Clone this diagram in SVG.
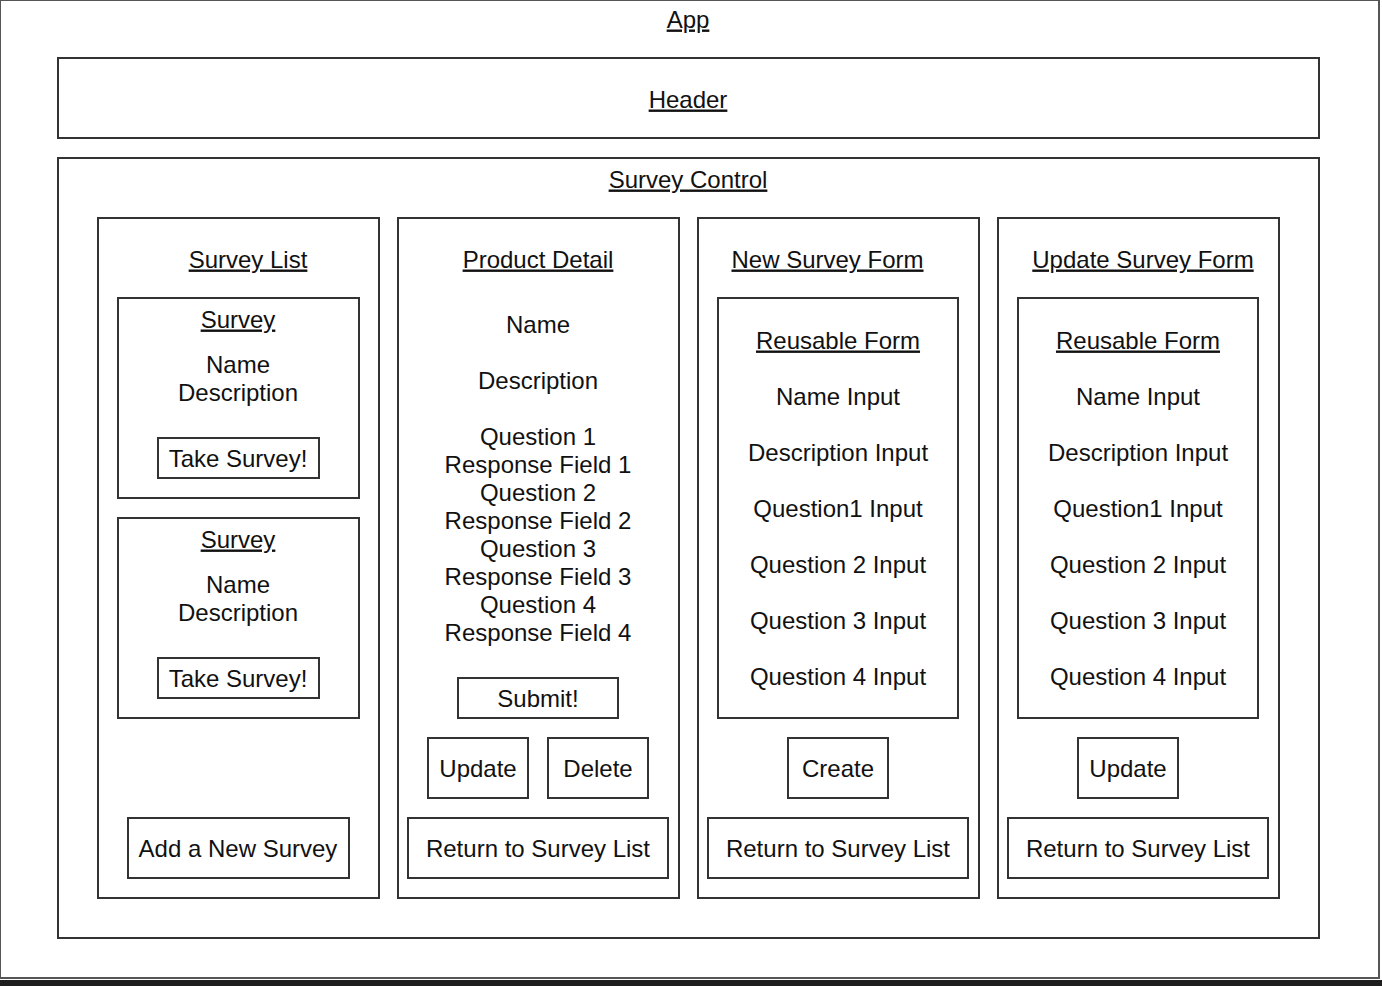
<svg xmlns="http://www.w3.org/2000/svg" width="1382" height="986" viewBox="0 0 1382 986">
<style>
.box{fill:#fff;stroke:#333;stroke-width:2}
.t{font-family:"Liberation Sans",Arial,Helvetica,sans-serif;font-size:24px;fill:#111;text-anchor:middle}
.u{text-decoration:underline}
</style>
<rect x="0" y="0" width="1382" height="986" fill="#fff"/>
<g id="app">
<rect x="0" y="0" width="1379" height="978" fill="#fff" stroke="#555" stroke-width="2"/>
<text class="t u" x="688" y="27.5">App</text>
</g>
<rect x="0" y="980" width="1382" height="6" fill="#1e1e1e"/>
<g id="header">
<rect class="box" x="58" y="58" width="1261" height="80"/>
<text class="t u" x="688" y="107.5">Header</text>
</g>
<g id="survey-control">
<rect class="box" x="58" y="158" width="1261" height="780"/>
<text class="t u" x="688" y="187.5">Survey Control</text>
</g>
<g id="survey-list">
<rect class="box" x="98" y="218" width="281" height="680"/>
<text class="t u" x="248" y="267.5">Survey List</text>
</g>
<g id="survey-1">
<rect class="box" x="118" y="298" width="241" height="200"/>
<text class="t u" x="238" y="327.5">Survey</text>
<text class="t" x="238" y="372.5">Name</text>
<text class="t" x="238" y="400.5">Description</text>
</g>
<g id="take-survey-1">
<rect class="box" x="158" y="438" width="161" height="40"/>
<text class="t" x="238" y="466.5">Take Survey!</text>
</g>
<g id="survey-2">
<rect class="box" x="118" y="518" width="241" height="200"/>
<text class="t u" x="238" y="547.5">Survey</text>
<text class="t" x="238" y="592.5">Name</text>
<text class="t" x="238" y="620.5">Description</text>
</g>
<g id="take-survey-2">
<rect class="box" x="158" y="658" width="161" height="40"/>
<text class="t" x="238" y="686.5">Take Survey!</text>
</g>
<g id="add-survey">
<rect class="box" x="128" y="818" width="221" height="60"/>
<text class="t" x="238" y="856.5">Add a New Survey</text>
</g>
<g id="product-detail">
<rect class="box" x="398" y="218" width="281" height="680"/>
<text class="t u" x="538" y="267.5">Product Detail</text>
<text class="t" x="538" y="332.5">Name</text>
<text class="t" x="538" y="388.5">Description</text>
<text class="t" x="538" y="444.5">Question 1</text>
<text class="t" x="538" y="472.5">Response Field 1</text>
<text class="t" x="538" y="500.5">Question 2</text>
<text class="t" x="538" y="528.5">Response Field 2</text>
<text class="t" x="538" y="556.5">Question 3</text>
<text class="t" x="538" y="584.5">Response Field 3</text>
<text class="t" x="538" y="612.5">Question 4</text>
<text class="t" x="538" y="640.5">Response Field 4</text>
</g>
<g id="submit">
<rect class="box" x="458" y="678" width="160" height="40"/>
<text class="t" x="538" y="706.5">Submit!</text>
</g>
<g id="update-btn">
<rect class="box" x="428" y="738" width="100" height="60"/>
<text class="t" x="478" y="776.5">Update</text>
</g>
<g id="delete-btn">
<rect class="box" x="548" y="738" width="100" height="60"/>
<text class="t" x="598" y="776.5">Delete</text>
</g>
<g id="return-1">
<rect class="box" x="408" y="818" width="260" height="60"/>
<text class="t" x="538" y="856.5">Return to Survey List</text>
</g>
<g id="new-survey-form">
<rect class="box" x="698" y="218" width="281" height="680"/>
<text class="t u" x="827.5" y="267.5">New Survey Form</text>
</g>
<g id="reusable-form-1">
<rect class="box" x="718" y="298" width="240" height="420"/>
<text class="t u" x="838" y="348.5">Reusable Form</text>
<text class="t" x="838" y="404.5">Name Input</text>
<text class="t" x="838" y="460.5">Description Input</text>
<text class="t" x="838" y="516.5">Question1 Input</text>
<text class="t" x="838" y="572.5">Question 2 Input</text>
<text class="t" x="838" y="628.5">Question 3 Input</text>
<text class="t" x="838" y="684.5">Question 4 Input</text>
</g>
<g id="create-btn">
<rect class="box" x="788" y="738" width="100" height="60"/>
<text class="t" x="838" y="776.5">Create</text>
</g>
<g id="return-2">
<rect class="box" x="708" y="818" width="260" height="60"/>
<text class="t" x="838" y="856.5">Return to Survey List</text>
</g>
<g id="update-survey-form">
<rect class="box" x="998" y="218" width="281" height="680"/>
<text class="t u" x="1143" y="267.5">Update Survey Form</text>
</g>
<g id="reusable-form-2">
<rect class="box" x="1018" y="298" width="240" height="420"/>
<text class="t u" x="1138" y="348.5">Reusable Form</text>
<text class="t" x="1138" y="404.5">Name Input</text>
<text class="t" x="1138" y="460.5">Description Input</text>
<text class="t" x="1138" y="516.5">Question1 Input</text>
<text class="t" x="1138" y="572.5">Question 2 Input</text>
<text class="t" x="1138" y="628.5">Question 3 Input</text>
<text class="t" x="1138" y="684.5">Question 4 Input</text>
</g>
<g id="update-btn-2">
<rect class="box" x="1078" y="738" width="100" height="60"/>
<text class="t" x="1128" y="776.5">Update</text>
</g>
<g id="return-3">
<rect class="box" x="1008" y="818" width="260" height="60"/>
<text class="t" x="1138" y="856.5">Return to Survey List</text>
</g>
<g id="connectors"></g>
</svg>
